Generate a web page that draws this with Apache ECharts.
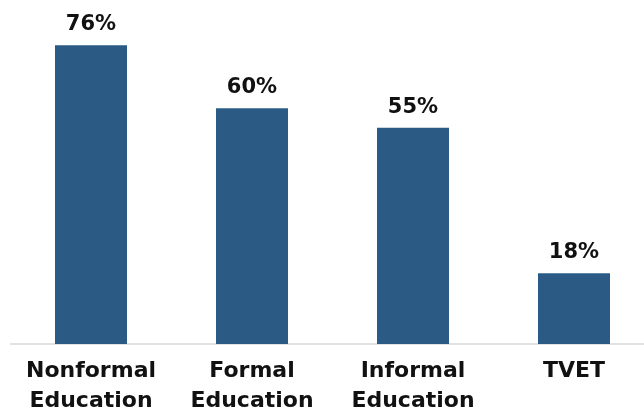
<!DOCTYPE html>
<html><head><meta charset="utf-8">
<script src="https://cdn.jsdelivr.net/npm/echarts@6/dist/echarts.min.js"></script>
<style>html,body{margin:0;padding:0;background:#fff;overflow:hidden}#c{width:644px;height:414px}</style>
</head><body><div id="c"></div>
<script>
const categories = ['Nonformal\nEducation', 'Formal\nEducation', 'Informal\nEducation', 'TVET'];
const values = [76, 60, 55, 18];

const chart = echarts.init(document.getElementById('c'), null, {renderer: 'canvas'});
chart.setOption({
  animation: false,
  grid: {left: 10.5, top: 29.5, width: 644, height: 314.5, containLabel: false, outerBoundsMode: 'none'},
  xAxis: {
    type: 'category', data: categories,
    axisLine: {show: true, lineStyle: {color: '#d9d9d9', width: 1.5}},
    axisTick: {show: false},
    axisLabel: {
      interval: 0, margin: 12, color: '#111', fontWeight: 'bold',
      fontFamily: 'DejaVu Sans', fontSize: 22, lineHeight: 30
    }
  },
  yAxis: {type: 'value', min: 0, max: 80, show: false, splitLine: {show: false}},
  series: [{
    type: 'bar', data: values, barWidth: 72,
    itemStyle: {color: '#2B5B84'},
    label: {
      show: true, position: 'top', distance: 10, formatter: '{c}%',
      color: '#111', fontWeight: 'bold', fontFamily: 'DejaVu Sans', fontSize: 21
    }
  }]
});
</script></body></html>
